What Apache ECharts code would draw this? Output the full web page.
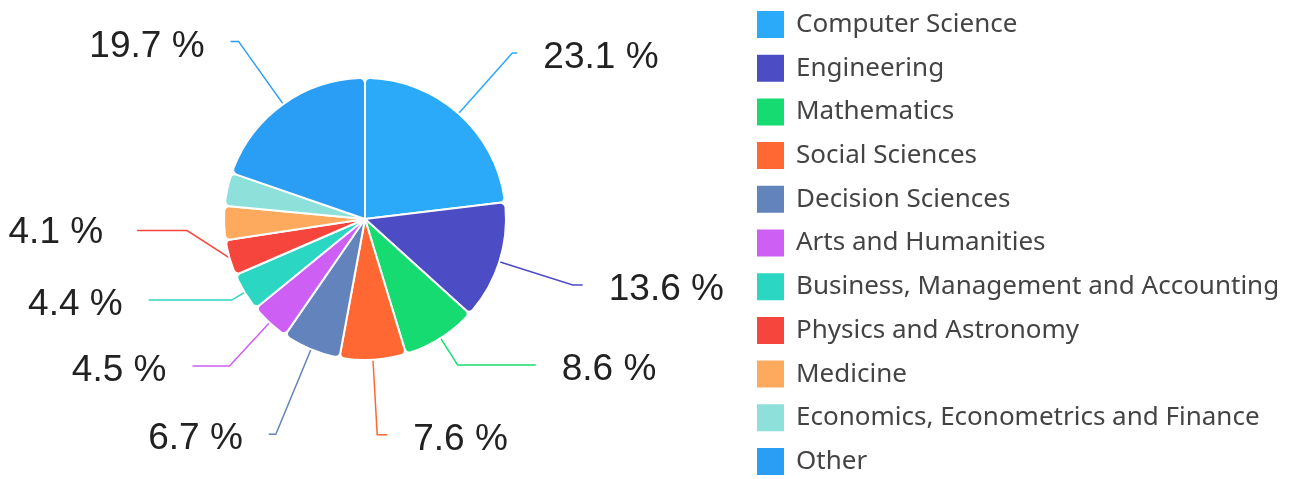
<!DOCTYPE html>
<html lang="en">
<head>
    <meta charset="UTF-8">
    <title>subject areas pie</title>
    <style>
        html, body { margin: 0; padding: 0; background: #fff; }
        #chart { width: 1295px; height: 479px; }
    </style>
</head>
<body>
    <div id="chart"></div>
    <script src="https://cdn.jsdelivr.net/npm/echarts@6/dist/echarts.min.js"></script>
    <script>
        // subject areas, clockwise from 12 o'clock
        const subjects = ['Computer Science', 'Engineering', 'Mathematics', 'Social Sciences', 'Decision Sciences',
            'Arts and Humanities', 'Business, Management and Accounting', 'Physics and Astronomy', 'Medicine',
            'Economics, Econometrics and Finance', 'Other'];
        const shares = [23.1, 13.6, 8.6, 7.6, 6.7, 4.5, 4.4, 4.1, 3.9, 3.8, 19.7];
        const colors = ['#2aaaf8', '#4c4cc4', '#16db70', '#ff6833', '#6283bb', '#cd5ff5', '#2bd6c2', '#f5453c',
            '#fdaa5f', '#8ee0da', '#2a9df4'];
        const labelMin = 4; // slices under this get no label

        // leader line lengths per slice (radial part, horizontal part), to spread labels like the original
        const leadRadial = [81, 77, 32, 75, 92, 59, 15, 17, 30, 30, 77];
        const leadFlat = [5, 10, 78, 10, 7, 37, 83, 50, 10, 10, 8];
        // extra vertical lift of a label (only the crowded 4.1 % one)
        const labelLift = [0, 0, 0, 0, 0, 0, 0, 37, 0, 0, 0];

        function getPieOption() {
            let pieData = subjects.map(function (name, i) {
                let show = shares[i] >= labelMin;
                return {
                    name: name, value: shares[i],
                    label: { show: show },
                    labelLine: { show: show, length: leadRadial[i], length2: leadFlat[i] }
                };
            });
            return {
                color: colors,
                animation: false,
                legend: {
                    orient: 'vertical', left: 755, top: 9, padding: 0,
                    itemWidth: 29, itemHeight: 29, itemGap: 12.7,
                    icon: 'rect',
                    textStyle: { fontFamily: 'Noto Sans', fontSize: 26, lineHeight: 29, color: '#444', padding: [0, 0, 0, 6] },
                    data: subjects
                },
                series: [{
                    type: 'pie',
                    center: [365, 219],
                    radius: 141,
                    startAngle: 90,
                    clockwise: true,
                    avoidLabelOverlap: false,
                    itemStyle: { borderColor: '#fff', borderWidth: 2, borderRadius: 5 },
                    label: {
                        formatter: function (p) {
                            let txt = '{v|' + p.value.toFixed(1) + ' %}';
                            // lifted label keeps a gap before its leader line
                            return labelLift[p.dataIndex] ? txt + '{g| }' : txt;
                        },
                        rich: {
                            v: { fontFamily: 'Liberation Sans', fontSize: 37, color: '#222', padding: [10, 0, 0, 0] },
                            g: { width: 34, fontSize: 37 }
                        },
                        distanceToLabelLine: 26
                    },
                    labelLine: { lineStyle: { width: 1.5 } },
                    labelLayout: function (params) {
                        let lift = labelLift[params.dataIndex];
                        if (!lift) return {};
                        return { y: params.labelRect.y + params.labelRect.height / 2 - lift };
                    },
                    data: pieData
                }]
            };
        }

        function initPie() {
            let myChart = echarts.init(document.getElementById('chart'));
            myChart.setOption(getPieOption());
            window.onresize = function () {
                myChart.resize();
            };
        }

        initPie();
    </script>
</body>
</html>
